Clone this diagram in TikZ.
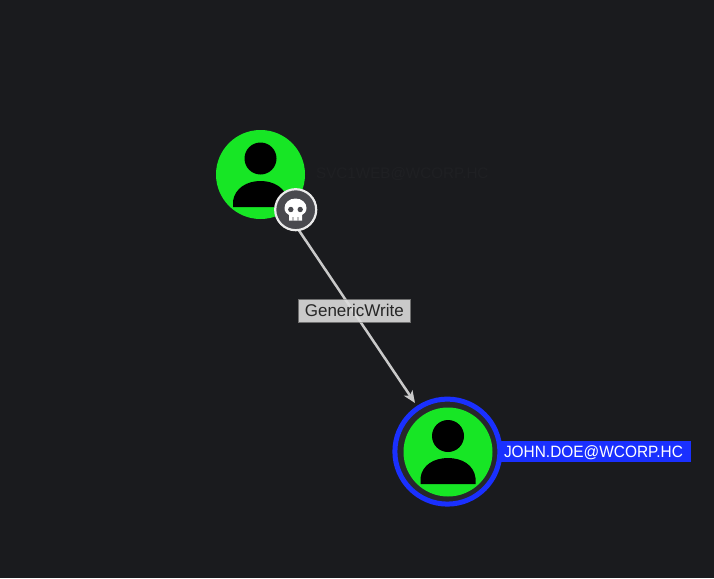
\documentclass[tikz,border=0pt]{standalone}
\usepackage{fontspec}
\setmainfont{Liberation Sans}
\usetikzlibrary{arrows.meta}
\definecolor{bgdark}{HTML}{1A1B1E}
\definecolor{nodegreen}{HTML}{17E625}
\definecolor{ringblue}{HTML}{1A30FF}
\definecolor{edgegrey}{HTML}{C9C9C9}
\definecolor{ghost}{HTML}{1F2023}
\definecolor{badgefill}{HTML}{4A4A4F}
\definecolor{ringgap}{HTML}{27272B}
\tikzset{
  person/.style={circle,fill=nodegreen,minimum size=89pt,inner sep=0pt,outer sep=0pt},
  edgelabel/.style={fill=edgegrey,draw=black!45!edgegrey,line width=.7pt,minimum width=112pt,minimum height=23pt,inner sep=0pt},
  edgetext/.style={text=black!85,font=\fontsize{17}{20}\selectfont,inner sep=0pt},
  edgeline/.style={draw=edgegrey,line width=2.5pt,-{Stealth[length=12pt,width=10pt,inset=3pt]}},
  badge/.style={circle,fill=badgefill,draw=white!92!black,line width=2.2pt,minimum size=41pt,inner sep=0pt},
  selected/.style={circle,draw=ringblue,fill=ringgap,line width=5pt,minimum size=105pt,inner sep=0pt},
  tagbox/.style={fill=ringblue,minimum height=21pt,minimum width=190pt,inner sep=0pt},
  tagtext/.style={text=white,font=\fontsize{16.4}{19}\selectfont,inner sep=0pt},
  ghosttext/.style={text=ghost,font=\fontsize{15.2}{19}\selectfont,anchor=west,inner sep=0pt},
  icon/.style={fill=black}
}
\begin{document}
\begin{tikzpicture}[x=1pt,y=-1pt]
\useasboundingbox (0,0) rectangle (714,578);
\fill[bgdark] (0,0) rectangle (714,578);
\coordinate (edgestart) at (296,226);
\coordinate (edgeend) at (415,403);
\node[tagbox] (johntag) at (596,451.7) {};
\node[tagtext] (johntext) at (593.5,452.6) {\scalebox{0.94}[1]{JOHN.DOE@WCORP.HC}};
\node[selected] (johnring) at (447.4,451.6) {};
\node[person] (john) at (448,452) {};
\fill[icon] (448,436) circle (16);
\fill[icon] (420.5,484) -- (420.5,478) .. controls (422,465) and (434,458) .. (448,458) .. controls (462,458) and (474,465) .. (475.5,478) -- (475.5,484) -- cycle;
\node[person] (svc) at (260.5,174.5) {};
\fill[icon] (260.5,158.5) circle (16);
\fill[icon] (233,207) -- (233,201) .. controls (235,188) and (247,181) .. (260.5,181) .. controls (274,181) and (286,188) .. (288,201) -- (288,207) -- cycle;
\node[ghosttext] (svctext) at (316,174.5) {SVC1WEB@WCORP.HC};
\node[edgelabel] (lbl) at (354,311) {};
\begin{scope}
\path[clip] (lbl.south west) rectangle (lbl.north east);
\draw[white,opacity=.3,line width=2.5pt] (edgestart) -- (edgeend);
\end{scope}
\node[edgetext] (lbltext) at (354.3,310.6) {GenericWrite};
\begin{scope}[even odd rule]
\path[clip] (0,0) rectangle (714,578) (lbl.south west) rectangle (lbl.north east);
\draw[edgeline] (edgestart) -- (edgeend);
\end{scope}
\node[badge] (skullbadge) at (295.7,209.7) {};
\fill[white] (295.5,198.5) .. controls (289,198.5) and (284.5,203) .. (284.5,208) .. controls (284.5,212) and (287,214) .. (289,215) -- (289,220.5) -- (302,220.5) -- (302,215) .. controls (304,214) and (306.5,212) .. (306.5,208) .. controls (306.5,203) and (302,198.5) .. (295.5,198.5) -- cycle;
\fill[badgefill] (290.8,209.5) circle (2.7) (300.2,209.5) circle (2.7);
\fill[badgefill] (292.6,217) rectangle (293.4,220.5) (297.6,217) rectangle (298.4,220.5);
\end{tikzpicture}
\end{document}
